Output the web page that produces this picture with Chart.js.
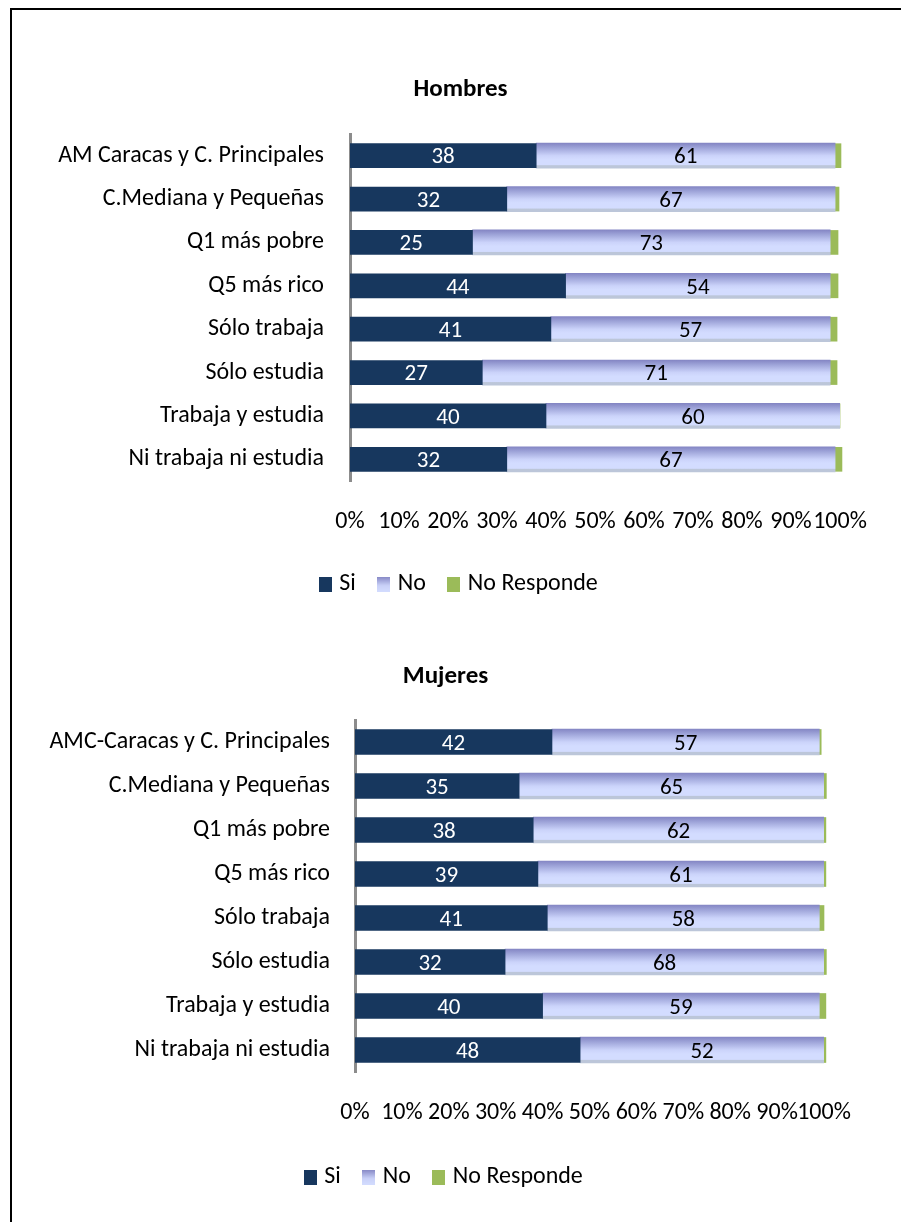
<!DOCTYPE html>
<html><head><meta charset="utf-8">
<script src="https://cdn.jsdelivr.net/npm/chart.js@4.4.0/dist/chart.umd.min.js"></script>
<style>
html,body{margin:0;padding:0;background:#fff;}
body{width:901px;height:1222px;position:relative;overflow:hidden;}
#frame{position:absolute;left:10px;top:8px;width:1000px;height:1300px;border-top:2px solid #000;border-left:2px solid #000;}
.box{position:absolute;left:0;width:901px;}
#c1box{top:0;height:620px;}
#c2box{top:620px;height:602px;}
canvas{display:block;}
</style></head><body>
<div id="frame"></div>
<div class="box" id="c1box"><canvas id="c1" width="901" height="620"></canvas></div>
<div class="box" id="c2box"><canvas id="c2" width="901" height="602"></canvas></div>
<script>
// ---- Data ----
const categoriesHombres = ["AM Caracas y C. Principales","C.Mediana y Pequeñas","Q1 más pobre","Q5 más rico","Sólo trabaja","Sólo estudia","Trabaja y estudia","Ni trabaja ni estudia"];
const siHombres = [38, 32, 25, 44, 41, 27, 40, 32];
const noHombres = [61, 67, 73, 54, 57, 71, 60, 67];
const nrHombres = [1.2, 0.8, 1.6, 1.6, 1.4, 1.4, 0, 1.4];

const categoriesMujeres = ["AMC-Caracas y C. Principales","C.Mediana y Pequeñas","Q1 más pobre","Q5 más rico","Sólo trabaja","Sólo estudia","Trabaja y estudia","Ni trabaja ni estudia"];
const siMujeres = [42, 35, 38, 39, 41, 32, 40, 48];
const noMujeres = [57, 65, 62, 61, 58, 68, 59, 52];
const nrMujeres = [0.4, 0.5, 0.4, 0.4, 1.0, 0.5, 1.4, 0.4];

const seriesNames = ["Si", "No", "No Responde"];
const tickValues = [0,10,20,30,40,50,60,70,80,90,100];

// ---- Styling ----
const FONT = "Carlito, Lato, 'Open Sans', sans-serif";
const FS = 24;      // axis & legend text
const FS_VAL = 23;  // bar value labels
const FS_TITLE = 25;
Chart.defaults.font.family = FONT;
Chart.defaults.color = '#000';
const SI_COLOR = '#17375E';
const NR_COLOR = '#9BBB59';

function gradStops(g){
  g.addColorStop(0, '#8486C4');
  g.addColorStop(0.2, '#A0A6DA');
  g.addColorStop(0.5, '#CBD3FA');
  g.addColorStop(0.65, '#D3DCFF');
  g.addColorStop(0.86, '#D3DCFF');
  g.addColorStop(0.9, '#BCC6D9');
  g.addColorStop(1, '#BCC6D9');
  return g;
}
function swatch(kind){
  const c = document.createElement('canvas');
  c.width = 13; c.height = 15;
  const x = c.getContext('2d');
  if (kind === 1) {
    const g = x.createLinearGradient(0,0,0,15);
    g.addColorStop(0,'#8486C4'); g.addColorStop(0.6,'#C9D1F8'); g.addColorStop(1,'#D3DCFF');
    x.fillStyle = g;
  } else x.fillStyle = kind === 0 ? SI_COLOR : NR_COLOR;
  x.fillRect(0,0,13,15);
  return c;
}
const swatches = [swatch(0), swatch(1), swatch(2)];

const valueLabels = {
  id: 'valueLabels',
  afterDatasetsDraw(chart) {
    const ctx = chart.ctx;
    ctx.save();
    ctx.font = FS_VAL + 'px ' + FONT;
    ctx.textAlign = 'center';
    ctx.textBaseline = 'middle';
    [0,1].forEach(di => {
      const meta = chart.getDatasetMeta(di);
      const ds = chart.data.datasets[di];
      meta.data.forEach((el, i) => {
        const v = ds.data[i];
        if (!v) return;
        const p = el.getCenterPoint();
        ctx.fillStyle = di === 0 ? '#FFFFFF' : '#000000';
        ctx.fillText(String(Math.round(v)), p.x, p.y + 2);
      });
    });
    ctx.restore();
  }
};

function makeChart(id, cfg) {
  const th = cfg.thickness;
  const noFill = (c) => {
    const chart = c.chart;
    const ys = chart.scales && chart.scales.y;
    if (!ys || c.type !== 'data') return '#C9D1F8';
    const y = ys.getPixelForValue(c.dataIndex);
    const h = th + 1;
    return gradStops(chart.ctx.createLinearGradient(0, y - h/2, 0, y + h/2));
  };
  return new Chart(document.getElementById(id), {
    type: 'bar',
    data: {
      labels: cfg.labels,
      datasets: [
        { label: seriesNames[0], data: cfg.si, backgroundColor: SI_COLOR, barThickness: th, borderWidth: 0 },
        { label: seriesNames[1], data: cfg.no, backgroundColor: noFill, barThickness: th + 1, borderWidth: 0 },
        { label: seriesNames[2], data: cfg.nr, backgroundColor: NR_COLOR, barThickness: th, borderWidth: 0, clip: false }
      ]
    },
    options: {
      indexAxis: 'y',
      responsive: false,
      animation: false,
      events: [],
      layout: { padding: { left: cfg.padLeft, right: cfg.padRight, top: cfg.padTop, bottom: cfg.padBottom } },
      scales: {
        x: {
          stacked: true, min: 0, max: 100,
          afterBuildTicks: (s) => { s.ticks = tickValues.map(v => ({ value: v })); },
          grid: { display: false, drawTicks: false },
          border: { display: false },
          ticks: { autoSkip: false, maxRotation: 0, padding: cfg.tickPad, font: { size: FS }, color: '#000',
                   callback: (v) => v + '%' },
          afterFit: (s) => { s.height = cfg.xHeight; s.paddingRight = cfg.xPadRight; }
        },
        y: {
          stacked: true,
          grid: { display: false, drawTicks: false },
          border: { display: true, color: '#8C8C8C', width: 3 },
          ticks: { autoSkip: false, padding: cfg.yPad, font: { size: FS }, color: '#000' },
          afterFit: (s) => { s.width = cfg.yWidth; }
        }
      },
      plugins: {
        tooltip: { enabled: false },
        title: { display: true, text: cfg.title, color: '#000', font: { size: FS_TITLE, weight: 'bold' },
                 padding: { top: 0, bottom: cfg.titleBottom } },
        legend: {
          position: 'bottom',
          labels: {
            usePointStyle: true, pointStyleWidth: 4, boxHeight: 15, padding: 26,
            font: { size: FS }, color: '#000',
            generateLabels: () => seriesNames.map((n, i) => ({
              text: n, pointStyle: swatches[i], fillStyle: '#000', strokeStyle: 'rgba(0,0,0,0)',
              lineWidth: 0, hidden: false, datasetIndex: i, fontColor: '#000'
            }))
          }
        }
      }
    },
    plugins: [valueLabels]
  });
}

makeChart('c1', {
  labels: categoriesHombres, si: siHombres, no: noHombres, nr: nrHombres, title: 'Hombres',
  padLeft: 20, padRight: 0, padTop: 75, padBottom: 14, titleBottom: 29,
  yWidth: 330, yPad: 26, xPadRight: 61, xHeight: 65, tickPad: 27, thickness: 24
});
makeChart('c2', {
  labels: categoriesMujeres, si: siMujeres, no: noMujeres, nr: nrMujeres, title: 'Mujeres',
  padLeft: 0, padRight: 10, padTop: 42, padBottom: 23, titleBottom: 28,
  yWidth: 355, yPad: 25, xPadRight: 77, xHeight: 67, tickPad: 27, thickness: 25
});
</script>
</body></html>
